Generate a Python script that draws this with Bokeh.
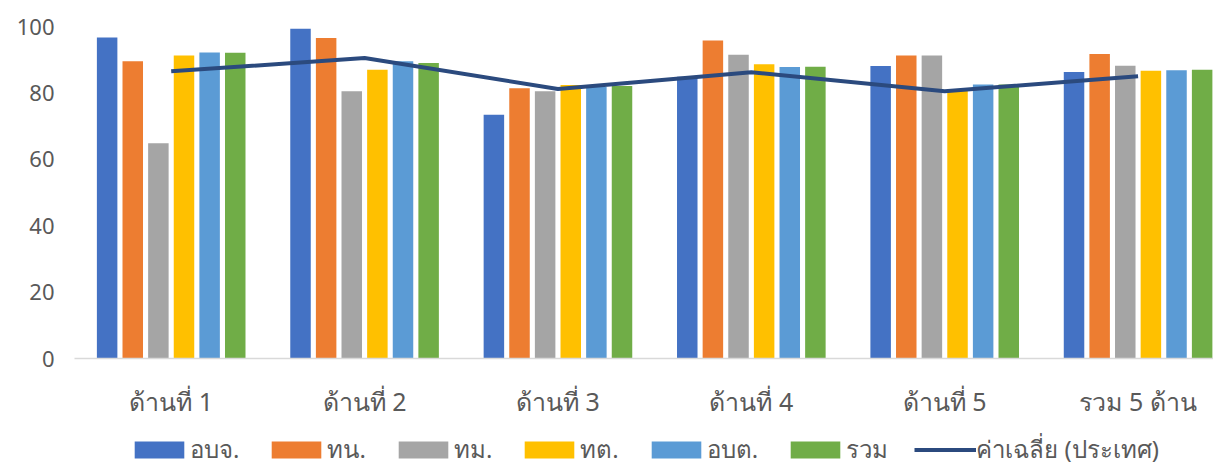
from bokeh.plotting import figure
from bokeh.layouts import column
from bokeh.models import Range1d, FixedTicker, Legend, LegendItem, ColumnDataSource
from bokeh.embed import file_html
from bokeh.resources import INLINE

categories = ["ด้านที่ 1", "ด้านที่ 2", "ด้านที่ 3", "ด้านที่ 4", "ด้านที่ 5", "รวม 5 ด้าน"]
series_names = ["อบจ.", "ทน.", "ทม.", "ทต.", "อบต.", "รวม"]
v_obj = [96.7, 99.3, 73.4, 84.9, 88.1, 86.3]
v_tn = [89.5, 96.5, 81.4, 95.8, 91.3, 91.7]
v_tm = [64.8, 80.5, 80.5, 91.5, 91.3, 88.2]
v_tt = [91.3, 87.0, 82.4, 88.6, 81.2, 86.7]
v_obt = [92.2, 89.5, 81.8, 87.8, 82.5, 86.8]
v_total = [92.1, 89.0, 82.1, 87.9, 82.5, 87.0]
avg_name = "ค่าเฉลี่ย (ประเทศ)"
v_avg = [86.5, 90.5, 81.2, 86.2, 80.5, 85.0]
y_ticks = [0, 20, 40, 60, 80, 100]

colors = ["#4472C4", "#ED7D31", "#A5A5A5", "#FFC000", "#5B9BD5", "#70AD47"]
line_color = "#2B4A7E"
FONT = "Noto Sans"
TXT = "#595959"

series_values = [v_obj, v_tn, v_tm, v_tt, v_obt, v_total]
xc = [i + 0.5 for i in range(len(categories))]

p = figure(width=1213, height=430, output_backend="svg", toolbar_location=None,
           x_range=Range1d(0, 5.89), y_range=Range1d(0, 100),
           min_border_left=74, min_border_right=0, min_border_top=26,
           min_border_bottom=72)
p.outline_line_color = None
p.xgrid.grid_line_color = None
p.ygrid.grid_line_color = None

# legend-only figure below the chart
lg = figure(width=1213, height=36, output_backend="svg", toolbar_location=None,
            x_range=Range1d(0, 1), y_range=Range1d(0, 1),
            x_axis_location=None, y_axis_location=None,
            min_border_left=0, min_border_right=0, min_border_top=0, min_border_bottom=0)
lg.grid.visible = False
lg.outline_line_color = None

pitch = 0.1325
bw = 0.106
items = []
for k, (name, vals, col) in enumerate(zip(series_names, series_values, colors)):
    off = (k - 2.5) * pitch
    src = ColumnDataSource(dict(x=[c + off for c in xc], top=vals))
    p.vbar(x="x", top="top", width=bw, source=src, fill_color=col, line_color=None)
    dummy = lg.vbar(x=[-10], top=[-5], bottom=[-6], width=0.1, fill_color=col, line_color=None)
    items.append(LegendItem(label=name, renderers=[dummy]))

lsrc = ColumnDataSource(dict(x=xc, y=v_avg))
p.line("x", "y", source=lsrc, line_color=line_color, line_width=4)
dl = lg.line(x=[-10, -9], y=[-5, -5], line_color=line_color, line_width=4)
items.append(LegendItem(label=avg_name, renderers=[dl]))

p.xaxis.ticker = FixedTicker(ticks=xc)
p.xaxis.major_label_overrides = {x: c for x, c in zip(xc, categories)}
p.xaxis.major_tick_line_color = None
p.xaxis.minor_tick_line_color = None
p.xaxis.axis_line_color = "#D9D9D9"
p.xaxis.axis_line_width = 1.5
p.xaxis.major_label_text_font = FONT
p.xaxis.major_label_text_font_size = "25px"
p.xaxis.major_label_text_color = TXT
p.xaxis.major_label_standoff = 19

p.yaxis.ticker = FixedTicker(ticks=y_ticks)
p.yaxis.axis_line_color = None
p.yaxis.major_tick_line_color = None
p.yaxis.minor_tick_line_color = None
p.yaxis.major_label_text_font = FONT
p.yaxis.major_label_text_font_size = "22px"
p.yaxis.major_label_text_color = TXT
p.yaxis.major_label_standoff = 14

legend = Legend(items=items, orientation="horizontal", location=(54, -3), nrows=1,
                glyph_width=62, glyph_height=21, label_standoff=0, spacing=26,
                label_text_font=FONT, label_text_font_size="24px", label_text_color=TXT,
                border_line_color=None, background_fill_alpha=0, padding=0, margin=0)
lg.add_layout(legend, "center")

layout = column(p, lg, spacing=0)
open("out.html", "w").write(file_html(layout, INLINE))
